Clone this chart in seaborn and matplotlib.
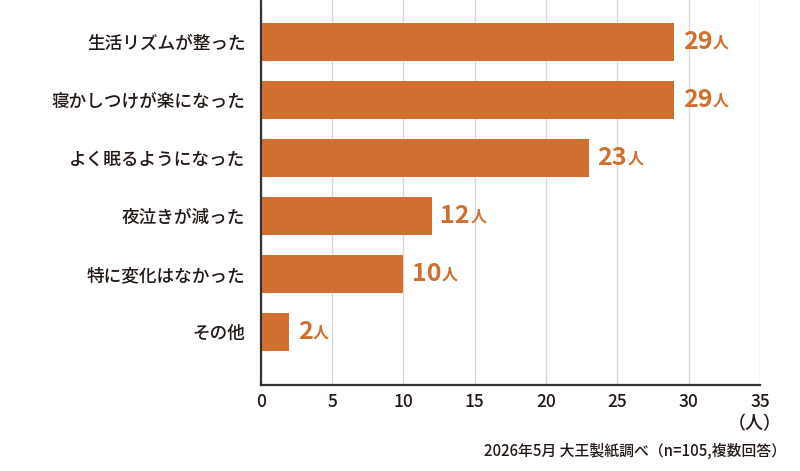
import matplotlib
matplotlib.use("Agg")
import matplotlib.pyplot as plt
import seaborn as sns
import pandas as pd

categories = ["生活リズムが整った", "寝かしつけが楽になった", "よく眠るようになった",
              "夜泣きが減った", "特に変化はなかった", "その他"]
values = [29, 29, 23, 12, 10, 2]
xticks = [0, 5, 10, 15, 20, 25, 30, 35]
unit_label = "（人）"
footnote = "2026年5月 大王製紙調べ（n=105,複数回答）"

sns.set_theme(style="white")
plt.rcParams['font.family'] = ['Noto Sans CJK JP', 'DejaVu Sans']

BAR = "#CF7030"
DARK = "#333333"
TXT = "#231815"

df = pd.DataFrame({"cat": categories, "val": values})

fig = plt.figure(figsize=(8, 4.71), dpi=100)
ax = fig.add_axes([0.326, 0.1826, 0.624, 0.8174])

sns.barplot(data=df, y="cat", x="val", orient="h", color=BAR, saturation=1,
            width=0.67, ax=ax, edgecolor="none")

ax.set_xlim(0, 35)
ax.set_ylim(len(categories) - 1 + 0.914, -0.724)
ax.set_xticks(xticks)
ax.set_xticklabels([str(t) for t in xticks])
ax.set_xlabel("")
ax.set_ylabel("")

ax.grid(axis="x", color="#d9d9d9", linewidth=1)
ax.set_axisbelow(True)
for s in ["top", "right"]:
    ax.spines[s].set_visible(False)
for s in ["left", "bottom"]:
    ax.spines[s].set_color(DARK)
    ax.spines[s].set_linewidth(1.6)

ax.tick_params(axis="x", direction="in", length=9, width=1.6, color=DARK,
               labelsize=12.5, labelcolor=TXT, pad=6)
ax.tick_params(axis="y", length=0, labelsize=12.7, labelcolor=TXT, pad=11)
for lab in ax.get_xticklabels() + ax.get_yticklabels():
    lab.set_fontweight("medium")

for i, v in enumerate(values):
    t = ax.annotate(str(v), xy=(v, i), xytext=(6, 0), textcoords="offset points",
                    va="center", ha="left", fontsize=18, fontweight="bold", color=BAR)
    ax.annotate("人", xy=(1, 0.14), xycoords=t, xytext=(0.5, 0), textcoords="offset points",
                va="bottom", ha="left", fontsize=11.5, fontweight="bold", color=BAR)

fig.text(755 / 800, 1 - 424 / 471, unit_label, ha="center", va="center",
         fontsize=13, color=TXT, fontweight="medium")
fig.text(786 / 800, 1 - 451 / 471, footnote, ha="right", va="center",
         fontsize=10.7, color=TXT, fontweight="medium")

fig.savefig("out.png", dpi=100)
